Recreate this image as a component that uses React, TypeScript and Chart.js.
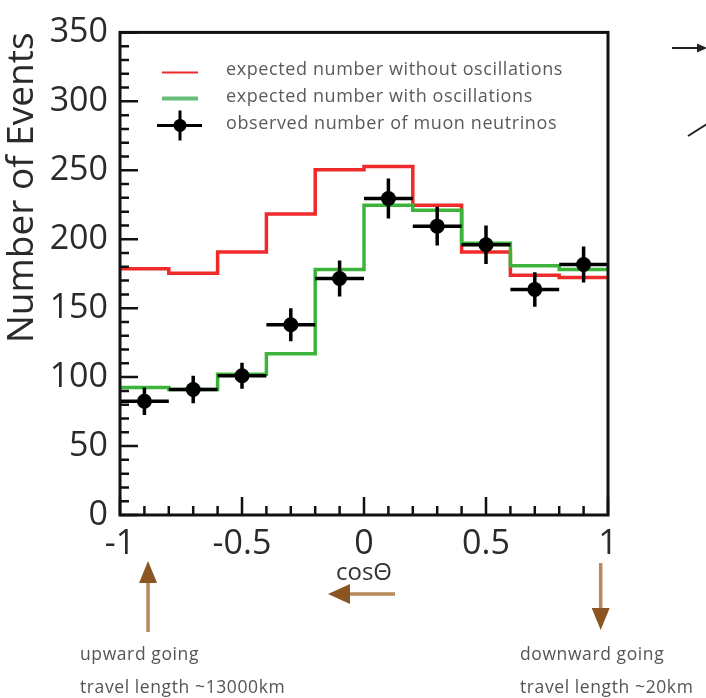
import React, { useEffect, useRef } from 'react';
import { Chart, registerables } from 'chart.js';

Chart.register(...registerables);

// ---- data ----
const binEdges = [-1, -0.8, -0.6, -0.4, -0.2, 0, 0.2, 0.4, 0.6, 0.8, 1];
const expectedNoOsc = [178.6, 175.3, 190.8, 218.3, 250.4, 252.7, 224.7, 190.8, 173.8, 172.2];
const expectedOsc = [92.5, 91, 102, 117, 178, 224.7, 221, 197, 180.8, 178];
const binCenters = [-0.9, -0.7, -0.5, -0.3, -0.1, 0.1, 0.3, 0.5, 0.7, 0.9];
const observed = [82.5, 91, 101, 138, 171.5, 229.5, 209.5, 196, 163.6, 181.7];
const observedErr = [10, 10, 9.5, 12, 13, 14.5, 14, 14, 12.5, 13];
const binHalfWidth = 0.1;
const xTickLabels = [-1, -0.5, 0, 0.5, 1];
const yTickLabels = [0, 50, 100, 150, 200, 250, 300, 350];
const seriesLabels = [
  'expected number without oscillations',
  'expected number with oscillations',
  'observed number of muon neutrinos',
];

const FONT = "'Open Sans', 'Noto Sans', sans-serif";
const RED = '#ee2a2a';
const GREEN = '#3cb43c';

function histPoints(values: number[]) {
  const pts = values.map((v, i) => ({ x: binEdges[i], y: v }));
  pts.push({ x: binEdges[binEdges.length - 1], y: values[values.length - 1] });
  return pts;
}

function arrowHead(ctx: CanvasRenderingContext2D, tipX: number, tipY: number, dx: number, dy: number, len: number, half: number) {
  const bx = tipX - dx * len;
  const by = tipY - dy * len;
  const nx = -dy;
  const ny = dx;
  ctx.beginPath();
  ctx.moveTo(tipX, tipY);
  ctx.lineTo(bx + nx * half, by + ny * half);
  ctx.lineTo(bx - nx * half, by - ny * half);
  ctx.closePath();
  ctx.fill();
}

const decorPlugin = {
  id: 'decor',
  afterDatasetsDraw(chart: any) {
    const ctx: CanvasRenderingContext2D = chart.ctx;
    const xs = chart.scales.x;
    const ys = chart.scales.y;
    ctx.save();
    ctx.strokeStyle = '#000';
    ctx.lineWidth = 3.5;
    binCenters.forEach((c, i) => {
      const px = xs.getPixelForValue(c);
      const py = ys.getPixelForValue(observed[i]);
      const x0 = xs.getPixelForValue(c - binHalfWidth);
      const x1 = xs.getPixelForValue(c + binHalfWidth);
      const y0 = ys.getPixelForValue(observed[i] - observedErr[i]);
      const y1 = ys.getPixelForValue(observed[i] + observedErr[i]);
      ctx.beginPath();
      ctx.moveTo(x0, py);
      ctx.lineTo(x1, py);
      ctx.moveTo(px, y0);
      ctx.lineTo(px, y1);
      ctx.stroke();
    });
    ctx.restore();
  },
  afterDraw(chart: any) {
    const ctx: any = chart.ctx;
    const { left, right, top, bottom } = chart.chartArea;
    const xs = chart.scales.x;
    const ys = chart.scales.y;
    ctx.save();

    // inner ticks
    ctx.strokeStyle = '#111';
    ctx.lineWidth = 2.5;
    ctx.beginPath();
    for (let k = 0; k <= 35; k++) {
      const v = k * 10;
      const py = ys.getPixelForValue(v);
      const len = k % 5 === 0 ? 18 : 9;
      ctx.moveTo(left, py);
      ctx.lineTo(left + len, py);
    }
    for (let k = 0; k <= 20; k++) {
      const v = -1 + k * 0.1;
      const px = xs.getPixelForValue(v);
      const len = k % 5 === 0 ? 18 : 9;
      ctx.moveTo(px, bottom);
      ctx.lineTo(px, bottom - len);
    }
    ctx.stroke();

    // frame
    ctx.lineWidth = 3;
    ctx.strokeStyle = '#111';
    ctx.strokeRect(left, top, right - left, bottom - top);

    // legend
    const lx0 = left + 42;
    const lx1 = left + 78;
    const lxc = (lx0 + lx1) / 2;
    const tx = left + 106;
    const rows = [top + 37, top + 64, top + 91];
    ctx.lineWidth = 2;
    ctx.strokeStyle = RED;
    ctx.beginPath();
    ctx.moveTo(lx0, rows[0] + 3);
    ctx.lineTo(lx1, rows[0] + 3);
    ctx.stroke();
    ctx.lineWidth = 4;
    ctx.strokeStyle = '#66bd78';
    ctx.beginPath();
    ctx.moveTo(lx0, rows[1] + 2);
    ctx.lineTo(lx1, rows[1] + 2);
    ctx.stroke();
    ctx.lineWidth = 3;
    ctx.strokeStyle = '#000';
    ctx.fillStyle = '#000';
    ctx.beginPath();
    ctx.moveTo(lx0 - 5, rows[2] + 2);
    ctx.lineTo(lx1 + 4, rows[2] + 2);
    ctx.moveTo(lxc, rows[2] - 13);
    ctx.lineTo(lxc, rows[2] + 17);
    ctx.stroke();
    ctx.beginPath();
    ctx.arc(lxc, rows[2] + 2, 6.5, 0, Math.PI * 2);
    ctx.fill();
    ctx.fillStyle = '#5a5a5a';
    ctx.font = `18px ${FONT}`;
    ctx.letterSpacing = '0.6px';
    ctx.textBaseline = 'middle';
    ctx.textAlign = 'left';
    seriesLabels.forEach((t, i) => ctx.fillText(t, tx, rows[i]));

    // brown direction arrows under the axis
    const upX = xs.getPixelForValue(-0.885);
    const downX = xs.getPixelForValue(0.97);
    ctx.strokeStyle = '#b88a5a';
    ctx.fillStyle = '#8a5520';
    ctx.lineWidth = 3.5;
    ctx.beginPath();
    ctx.moveTo(upX, 632);
    ctx.lineTo(upX, 580);
    ctx.moveTo(395, 594);
    ctx.lineTo(348, 594);
    ctx.moveTo(downX, 563);
    ctx.lineTo(downX, 612);
    ctx.stroke();
    arrowHead(ctx, upX, 561, 0, -1, 22, 9);
    arrowHead(ctx, 328, 594, -1, 0, 22, 10);
    arrowHead(ctx, downX, 630, 0, 1, 22, 9);

    ctx.fillStyle = '#555';
    ctx.font = `17.5px ${FONT}`;
    ctx.letterSpacing = '0.6px';
    ctx.textBaseline = 'middle';
    ctx.textAlign = 'left';
    ctx.fillText('upward going', 80, 655);
    ctx.fillText('travel length ~13000km', 80, 688);
    ctx.fillText('downward going', 520, 655);
    ctx.fillText('travel length ~20km', 520, 688);
    ctx.letterSpacing = '0px';

    // fragments at the top right
    ctx.strokeStyle = '#222';
    ctx.fillStyle = '#222';
    ctx.lineWidth = 2;
    ctx.beginPath();
    ctx.moveTo(672, 48);
    ctx.lineTo(700, 48);
    ctx.moveTo(688, 136);
    ctx.lineTo(707, 124);
    ctx.stroke();
    arrowHead(ctx, 707, 48, 1, 0, 10, 4.5);

    ctx.restore();
  },
};

export default function App() {
  const ref = useRef<HTMLCanvasElement>(null);
  useEffect(() => {
    document.body.style.margin = '0';
    const canvas = ref.current;
    if (!canvas) return;
    const chart = new Chart(canvas, {
      type: 'scatter',
      data: {
        datasets: [
          {
            type: 'scatter',
            label: seriesLabels[2],
            data: binCenters.map((x, i) => ({ x, y: observed[i] })),
            pointRadius: 7.5,
            pointBackgroundColor: '#000',
            pointBorderWidth: 0,
            order: 0,
          },
          {
            type: 'line',
            label: seriesLabels[1],
            data: histPoints(expectedOsc),
            stepped: true,
            borderColor: GREEN,
            borderWidth: 3.5,
            pointRadius: 0,
            fill: false,
            order: 1,
          },
          {
            type: 'line',
            label: seriesLabels[0],
            data: histPoints(expectedNoOsc),
            stepped: true,
            borderColor: RED,
            borderWidth: 3.5,
            pointRadius: 0,
            fill: false,
            order: 2,
          },
        ] as any,
      },
      options: {
        responsive: false,
        animation: false,
        devicePixelRatio: 1,
        layout: { padding: { top: 27, right: 98, left: 0, bottom: 0 } },
        plugins: { legend: { display: false }, tooltip: { enabled: false } },
        scales: {
          x: {
            type: 'linear',
            min: -1,
            max: 1,
            grid: { display: false, drawTicks: false },
            border: { display: false },
            afterBuildTicks: (scale: any) => {
              scale.ticks = xTickLabels.map((v) => ({ value: v }));
            },
            afterFit: (scale: any) => {
              scale.height = 183;
            },
            ticks: {
              callback: (v: any) => String(v),
              font: { family: FONT, size: 34 },
              color: '#2a2a2a',
              padding: 9,
              maxRotation: 0,
              autoSkip: false,
            },
            title: {
              display: true,
              text: 'cosΘ',
              font: { family: FONT, size: 24 },
              color: '#333',
              padding: { top: 0, bottom: 110 },
            },
          },
          y: {
            type: 'linear',
            min: 0,
            max: 350,
            grid: { display: false, drawTicks: false },
            border: { display: false },
            afterBuildTicks: (scale: any) => {
              scale.ticks = yTickLabels.map((v) => ({ value: v }));
            },
            afterFit: (scale: any) => {
              scale.width = 120;
            },
            ticks: {
              callback: (v: any) => String(v),
              font: { family: FONT, size: 34 },
              color: '#2a2a2a',
              padding: 12,
              autoSkip: false,
            },
            title: {
              display: true,
              text: 'Number of Events',
              align: 'end',
              font: { family: FONT, size: 37 },
              color: '#2a2a2a',
              padding: { top: 0, bottom: 0 },
            },
          },
        },
      } as any,
      plugins: [decorPlugin],
    });
    return () => chart.destroy();
  }, []);
  return (
    <div style={{ width: 706, height: 698, background: '#fff' }}>
      <canvas ref={ref} width={706} height={698} style={{ display: 'block' }} />
    </div>
  );
}
